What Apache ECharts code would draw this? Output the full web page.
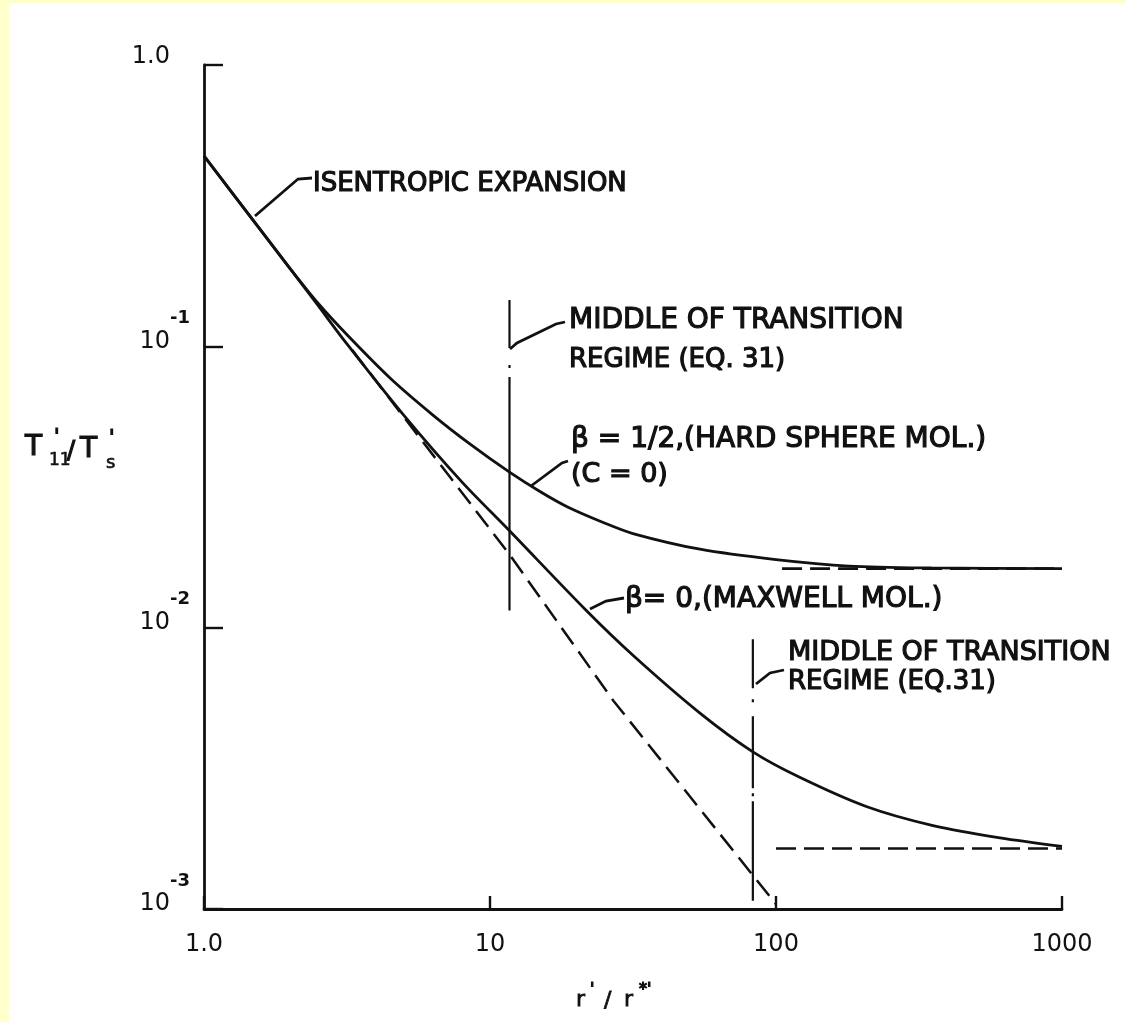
<!DOCTYPE html>
<html>
<head>
<meta charset="utf-8">
<script src="https://cdn.jsdelivr.net/npm/echarts@6/dist/echarts.min.js"></script>
<style>
  html, body { margin: 0; padding: 0; background: #fff; }
  #main { width: 1126px; height: 1022px; }
</style>
</head>
<body>
<div id="main"></div>
<script>
"use strict";

// values (log-log)
var xTicks = [1, 10, 100, 1000];
var yTicks = [0.001, 0.01, 0.1, 1];

// beta = 1/2, hard sphere molecules
var hardSphereX = [1, 1.5, 2, 2.5, 3.2, 4.5, 6.3, 8.5, 11.7, 15, 18.6, 25, 31.6, 54.2, 100, 180, 350, 1000];
var hardSphereY = [0.475, 0.277, 0.189, 0.1426, 0.1086, 0.0767, 0.0571, 0.045, 0.0357, 0.0304, 0.0269, 0.0236, 0.0216, 0.019, 0.01746, 0.01656, 0.0163, 0.0162];

// beta = 0, Maxwell molecules
var maxwellX = [1, 1.5, 2, 2.5, 3.16, 5, 7.94, 11.7, 21.8, 31.6, 54.2, 83, 121, 208, 354, 607, 1000];
var maxwellY = [0.475, 0.277, 0.189, 0.14, 0.102, 0.0568, 0.0331, 0.0221, 0.01146, 0.00798, 0.00497, 0.00362, 0.00294, 0.00231, 0.00198, 0.00179, 0.00167];

// isentropic continuation (dashed)
var isentropicX = [3.3, 11.7, 27, 100];
var isentropicY = [0.097, 0.0182, 0.0055, 0.00104];

// frozen limits (dashed)
var hardSphereLimitX = [105, 1000];
var hardSphereLimitY = [0.0162, 0.0162];
var maxwellLimitX = [100, 1000];
var maxwellLimitY = [0.00164, 0.00164];

// middle of transition regime markers
var transition1X = [11.7, 11.7];
var transition1Y = [0.146, 0.0115];
var transition2X = [83, 83];
var transition2Y = [0.0091, 0.00107];

function zip(xs, ys) {
    var out = [];
    for (var i = 0; i < xs.length; i++) out.push([xs[i], ys[i]]);
    return out;
}

var INK = '#111';
var FONT = '"DejaVu Sans", sans-serif';

function line(name, xs, ys, type, width) {
    return {
        name: name,
        type: 'line',
        data: zip(xs, ys),
        symbol: 'none',
        smooth: type === 'solid' ? 0.3 : false,
        lineStyle: { color: INK, width: width || 2.8, type: type },
        z: 3
    };
}

function label(text, x, y, size, weight) {
    return {
        type: 'text',
        z: 100,
        style: {
            text: text, x: x, y: y,
            font: (size || 26) + 'px ' + FONT,
            fill: INK, stroke: INK, lineWidth: weight === undefined ? 1.2 : weight,
            textVerticalAlign: 'middle', verticalAlign: 'middle'
        }
    };
}

function leader(points) {
    return {
        type: 'polyline',
        z: 100,
        shape: { points: points },
        style: { stroke: INK, lineWidth: 2.8, fill: null }
    };
}

var myChart = echarts.init(document.getElementById('main'));

var option = {
    backgroundColor: '#fff',
    animation: false,
    grid: { left: 204, right: 64, top: 65, bottom: 113 },
    xAxis: {
        type: 'log',
        logBase: 10,
        min: xTicks[0],
        max: xTicks[xTicks.length - 1],
        axisLine: { lineStyle: { color: INK, width: 2.8 } },
        axisTick: { inside: true, length: 13, lineStyle: { color: INK, width: 2.4 } },
        minorTick: { show: false },
        splitLine: { show: false },
        axisLabel: {
            margin: 24,
            fontFamily: FONT,
            fontSize: 24,
            color: INK,
            formatter: function (v) { return v === 1 ? '1.0' : String(v); }
        }
    },
    yAxis: {
        type: 'log',
        logBase: 10,
        min: yTicks[0],
        max: yTicks[yTicks.length - 1],
        axisLine: { lineStyle: { color: INK, width: 2.8 } },
        axisTick: { inside: true, length: 19, lineStyle: { color: INK, width: 2.4 } },
        splitLine: { show: false },
        axisLabel: {
            margin: 14,
            color: INK,
            padding: [0, 0, 30, 0],
            formatter: function (v) {
                if (v >= 1) return '{one|1.0}';
                var e = Math.round(Math.log(v) / Math.LN10);
                return '{b|10}{s|' + e + '}';
            },
            rich: {
                one: { fontFamily: FONT, fontSize: 24, color: INK, lineHeight: 44, padding: [14, 20, 0, 0] },
                b: { fontFamily: FONT, fontSize: 24, color: INK, lineHeight: 44, verticalAlign: 'bottom' },
                s: { fontFamily: FONT, fontSize: 18, fontWeight: 'bold', color: INK, lineHeight: 25, verticalAlign: 'top' }
            }
        }
    },
    graphic: [
        // scan margin
        { type: 'rect', z: 0, shape: { x: 0, y: 0, width: 9, height: 1022 }, style: { fill: '#ffffcc' } },
        { type: 'rect', z: 0, shape: { x: 0, y: 0, width: 1126, height: 3 }, style: { fill: '#ffffcc' } },

        label('ISENTROPIC EXPANSION', 313, 184, 26),
        leader([[312, 178], [298, 179], [255, 216]]),

        label('MIDDLE OF TRANSITION', 569, 321, 28),
        label('REGIME (EQ. 31)', 569, 360, 26),
        leader([[565, 322], [556, 324], [517, 343], [510, 349]]),

        label('\u03B2 = 1/2,(HARD SPHERE MOL.)', 571, 440, 28),
        label('(C = 0)', 571, 475, 27),
        leader([[568, 461], [562, 463], [531, 486]]),

        label('\u03B2= 0,(MAXWELL MOL.)', 625, 600, 28),
        leader([[624, 598], [606, 601], [590, 609]]),

        label('MIDDLE OF TRANSITION', 788, 653, 27),
        label('REGIME (EQ.31)', 788, 682, 26),
        leader([[784, 670], [770, 673], [756, 684]]),

        // y axis name T'11 / T's
        label('T', 25, 448, 28),
        label("'", 54, 437, 20),
        label('11', 49, 461, 17, 0.6),
        label('/', 67, 452, 24),
        label('T', 80, 450, 28),
        label("'", 109, 438, 20),
        label('s', 106, 463, 18, 0.6),

        // x axis name r'/r*'
        label('r', 576, 1000, 22, 0.8),
        label("'", 590, 990, 16),
        label('/', 604, 1001, 22, 0.8),
        label('r', 624, 1000, 22, 0.8),
        label("*'", 639, 990, 16)
    ],
    series: [
        line('beta=1/2 (hard sphere)', hardSphereX, hardSphereY, 'solid'),
        line('beta=0 (Maxwell)', maxwellX, maxwellY, 'solid'),
        line('isentropic expansion', isentropicX, isentropicY, [20, 9], 2.5),
        line('hard sphere limit', hardSphereLimitX, hardSphereLimitY, [20, 8], 2.8),
        line('Maxwell limit', maxwellLimitX, maxwellLimitY, [20, 8], 2.5),
        line('transition 1', transition1X, transition1Y, [48, 17, 3, 9, 320, 0], 2.2),
        line('transition 2', transition2X, transition2Y, [49, 11, 3, 14, 72, 5, 3, 5, 200, 0], 2.2)
    ]
};

myChart.setOption(option);
window.myChart = myChart;
</script>
</body>
</html>
